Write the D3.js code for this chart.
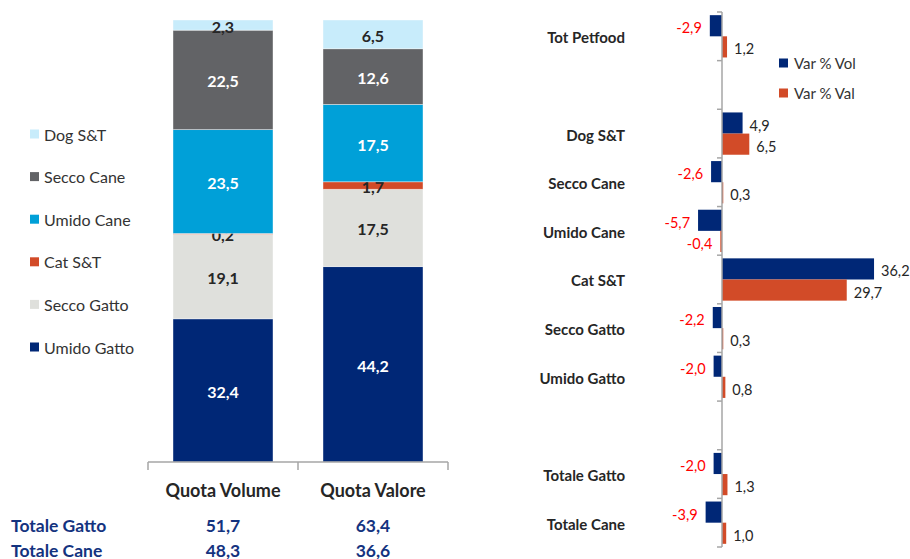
<!DOCTYPE html>
<html>
<head>
<meta charset="utf-8">
<script src="https://cdn.jsdelivr.net/npm/d3@7"></script>
<style>
  html, body { margin: 0; padding: 0; background: #ffffff; }
  svg { display: block; font-family: Lato, "Open Sans", sans-serif; }
</style>
</head>
<body>
<svg id="chart" width="910" height="559"></svg>
<script>
// Quote (stacked) - left panel
const segments = ["Umido Gatto", "Secco Gatto", "Cat S&T", "Umido Cane", "Secco Cane", "Dog S&T"];
const segColors = ["#002776", "#dfe0dc", "#d24b28", "#00a0d8", "#626366", "#c8ecfb"];
const segTextColors = ["#ffffff", "#262626", "#262626", "#ffffff", "#ffffff", "#262626"];
const shareCats = ["Quota Volume", "Quota Valore"];
const volShare = [32.4, 19.1, 0.2, 23.5, 22.5, 2.3];
const valShare = [44.2, 17.5, 1.7, 17.5, 12.6, 6.5];

const totalLabels = ["Totale Gatto", "Totale Cane"];
const totalVol = [51.7, 48.3];
const totalVal = [63.4, 36.6];

// Variazioni % - right panel (empty names are spacer rows)
const varCats = ["Tot Petfood", "", "Dog S&T", "Secco Cane", "Umido Cane", "Cat S&T",
                 "Secco Gatto", "Umido Gatto", "", "Totale Gatto", "Totale Cane"];
const varVol = [-2.9, null, 4.9, -2.6, -5.7, 36.2, -2.2, -2.0, null, -2.0, -3.9];
const varVal = [1.2, null, 6.5, 0.3, -0.4, 29.7, 0.3, 0.8, null, 1.3, 1.0];
const varSeries = ["Var % Vol", "Var % Val"];
const varColors = ["#002776", "#d24b28"];

// italian decimal comma, plain hyphen for negatives
const fmt = v => (v < 0 ? "-" : "") + d3.format(".1f")(Math.abs(v)).replace(".", ",");

const svg = d3.select("#chart");

// ---------- left: stacked shares ----------
const x = d3.scaleBand()
    .domain(shareCats)
    .range([148, 448])
    .paddingInner(1 / 3)
    .paddingOuter(1 / 6);

const y = d3.scaleLinear().domain([0, 100]).range([462, 20]);

const shareRows = shareCats.map((c, i) => {
    const vals = i === 0 ? volShare : valShare;
    const row = { cat: c };
    segments.forEach((s, j) => row[s] = vals[j]);
    return row;
});

const stack = d3.stack().keys(segments)(shareRows);

const layers = svg.append("g").selectAll("g")
    .data(stack)
    .enter()
    .append("g")
    .attr("fill", (d, i) => segColors[i]);

layers.selectAll("rect")
    .data(d => d)
    .enter()
    .append("rect")
    .attr("x", d => x(d.data.cat))
    .attr("width", x.bandwidth())
    .attr("y", d => y(d[1]))
    .attr("height", d => y(d[0]) - y(d[1]))
    .attr("stroke", "#ffffff")
    .attr("stroke-opacity", 0.5)
    .attr("stroke-width", 0.8);

layers.each(function (layer, i) {
    d3.select(this).selectAll("text")
        .data(layer)
        .enter()
        .append("text")
        .attr("x", d => x(d.data.cat) + x.bandwidth() / 2)
        .attr("y", d => (y(d[0]) + y(d[1])) / 2 + 1)
        .attr("text-anchor", "middle")
        .attr("dominant-baseline", "central")
        .attr("font-size", "16px")
        .attr("font-weight", "bold")
        .attr("fill", segTextColors[i])
        .text(d => fmt(d[1] - d[0]));
});

// category axis with ticks between categories
const axisY = y(0);
const axisG = svg.append("g").attr("stroke", "#a6a6a6").attr("stroke-width", 1.5);
axisG.append("line")
    .attr("x1", x.range()[0]).attr("x2", x.range()[1])
    .attr("y1", axisY).attr("y2", axisY);
const bounds = [x.range()[0], x.range()[0] + x.step(), x.range()[1]];
axisG.selectAll(".tk")
    .data(bounds)
    .enter()
    .append("line")
    .attr("x1", d => d).attr("x2", d => d)
    .attr("y1", axisY).attr("y2", axisY + 8);

svg.append("g").selectAll("text")
    .data(shareCats)
    .enter()
    .append("text")
    .attr("x", d => x(d) + x.bandwidth() / 2)
    .attr("y", 490)
    .attr("text-anchor", "middle")
    .attr("dominant-baseline", "central")
    .attr("font-size", "18px")
    .attr("font-weight", "bold")
    .attr("fill", "#262626")
    .text(d => d);

// totals under the bars
const totG = svg.append("g")
    .attr("font-size", "17.5px")
    .attr("font-weight", "bold")
    .attr("fill", "#14337f");
totalLabels.forEach((t, i) => {
    const ty = 525 + i * 25;
    totG.append("text").attr("x", 11).attr("y", ty)
        .attr("dominant-baseline", "central").text(t);
    totG.append("text").attr("x", x(shareCats[0]) + x.bandwidth() / 2).attr("y", ty)
        .attr("text-anchor", "middle").attr("dominant-baseline", "central").text(fmt(totalVol[i]));
    totG.append("text").attr("x", x(shareCats[1]) + x.bandwidth() / 2).attr("y", ty)
        .attr("text-anchor", "middle").attr("dominant-baseline", "central").text(fmt(totalVal[i]));
});

// legend (top = last segment)
const legendItems = segments.map((s, i) => ({ name: s, color: segColors[i] })).reverse();
const leg = svg.append("g").selectAll("g")
    .data(legendItems)
    .enter()
    .append("g")
    .attr("transform", (d, i) => `translate(30, ${134 + i * 42.6})`);
leg.append("rect")
    .attr("x", 0).attr("y", -4.5)
    .attr("width", 9).attr("height", 9)
    .attr("fill", d => d.color);
leg.append("text")
    .attr("x", 14).attr("y", 0)
    .attr("dominant-baseline", "central")
    .attr("font-size", "16px")
    .attr("fill", "#333333")
    .text(d => d.name);

// ---------- right: variations ----------
const yb = d3.scaleBand()
    .domain(d3.range(varCats.length))
    .range([12, 547]);

const ys = d3.scaleBand()
    .domain(varSeries)
    .range([0, yb.bandwidth()])
    .paddingOuter(0.15);

const xv = d3.scaleLinear().domain([-10, 40]).range([680, 890]);

const varRows = varCats.map((c, i) => ({ i: i, name: c, vals: [varVol[i], varVal[i]] }));

const rowG = svg.append("g").selectAll("g")
    .data(varRows)
    .enter()
    .append("g")
    .attr("transform", d => `translate(0, ${yb(d.i)})`);

const cells = rowG.selectAll("g")
    .data(d => d.vals.map((v, k) => ({ v: v, k: k })).filter(e => e.v !== null))
    .enter()
    .append("g");

cells.append("rect")
    .attr("x", d => xv(Math.min(0, d.v)))
    .attr("width", d => Math.abs(xv(d.v) - xv(0)))
    .attr("y", d => ys(varSeries[d.k]))
    .attr("height", ys.bandwidth())
    .attr("fill", d => varColors[d.k]);

cells.append("text")
    .attr("x", d => d.v < 0 ? xv(d.v) - 8 : xv(d.v) + 7)
    .attr("y", d => ys(varSeries[d.k]) + ys.bandwidth() / 2 + 2)
    .attr("text-anchor", d => d.v < 0 ? "end" : "start")
    .attr("dominant-baseline", "central")
    .attr("font-size", "14.5px")
    .attr("fill", d => d.v < 0 ? "#ff0000" : "#262626")
    .text(d => fmt(d.v));

rowG.append("text")
    .attr("x", 625)
    .attr("y", yb.bandwidth() / 2 + 1)
    .attr("text-anchor", "end")
    .attr("dominant-baseline", "central")
    .attr("font-size", "15px")
    .attr("font-weight", "bold")
    .attr("fill", "#262626")
    .text(d => d.name);

// vertical axis at zero
const vAxis = svg.append("g").attr("stroke", "#a6a6a6").attr("stroke-width", 1.5);
vAxis.append("line")
    .attr("x1", xv(0)).attr("x2", xv(0))
    .attr("y1", yb.range()[0]).attr("y2", yb.range()[1]);
vAxis.selectAll(".tk")
    .data(d3.range(varCats.length + 1).map(i => yb.range()[0] + i * yb.step()))
    .enter()
    .append("line")
    .attr("x1", xv(0) - 5).attr("x2", xv(0))
    .attr("y1", d => d).attr("y2", d => d);

// legend right
const leg2 = svg.append("g").selectAll("g")
    .data(varSeries)
    .enter()
    .append("g")
    .attr("transform", (d, i) => `translate(779, ${63 + i * 30})`);
leg2.append("rect")
    .attr("x", 0).attr("y", -4.5)
    .attr("width", 9).attr("height", 9)
    .attr("fill", (d, i) => varColors[i]);
leg2.append("text")
    .attr("x", 15).attr("y", 0)
    .attr("dominant-baseline", "central")
    .attr("font-size", "15px")
    .attr("fill", "#333333")
    .text(d => d);
</script>
</body>
</html>
